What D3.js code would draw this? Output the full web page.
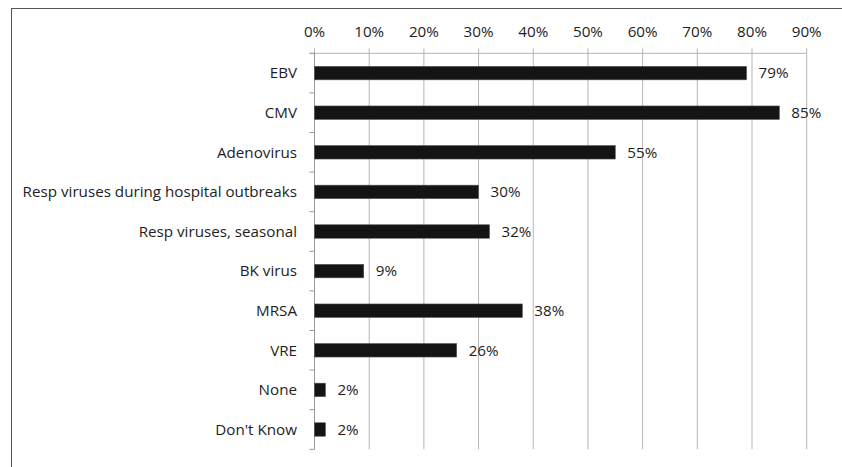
<!DOCTYPE html>
<html>
<head>
<meta charset="utf-8">
<script src="https://cdn.jsdelivr.net/npm/d3@7"></script>
<style>
  html, body { margin: 0; padding: 0; background: #fff; }
  svg { display: block; }
  text { font-family: "Open Sans", "Noto Sans", sans-serif; fill: #1e1e1e; }
</style>
</head>
<body>
<svg id="chart" width="842" height="467"></svg>
<script>
// Pathogens and share of respondents (%)
const categories = ["EBV", "CMV", "Adenovirus", "Resp viruses during hospital outbreaks",
  "Resp viruses, seasonal", "BK virus", "MRSA", "VRE", "None", "Don't Know"];
const values = [79, 85, 55, 30, 32, 9, 38, 26, 2, 2];
const xTicks = [0, 10, 20, 30, 40, 50, 60, 70, 80, 90];

const svg = d3.select("#chart");
const fontSize = 15.2;

// outer frame (runs past the right and bottom edges)
svg.append("rect")
  .attr("x", 11.5).attr("y", 8.5)
  .attr("width", 842).attr("height", 467)
  .attr("fill", "none").attr("stroke", "#555").attr("stroke-width", 1);

const plotLeft = 314.5, plotRight = 806.7, plotTop = 53.3, plotBottom = 449.3;

const x = d3.scaleLinear().domain([0, 90]).range([plotLeft, plotRight]);
const y = d3.scaleBand().domain(categories).range([plotTop, plotBottom]).paddingInner(0.66).paddingOuter(0.33);

// vertical gridlines
svg.append("g").selectAll("line").data(xTicks).join("line")
  .attr("x1", d => x(d)).attr("x2", d => x(d))
  .attr("y1", plotTop - 5).attr("y2", plotBottom)
  .attr("stroke", "#b5b5b5").attr("stroke-width", 1);

// top axis labels
svg.append("g").selectAll("text").data(xTicks).join("text")
  .attr("x", d => x(d)).attr("y", 37)
  .attr("text-anchor", "middle")
  .attr("font-size", fontSize)
  .text(d => d + "%");

// top axis line
svg.append("line")
  .attr("x1", plotLeft - 5).attr("x2", plotRight)
  .attr("y1", plotTop).attr("y2", plotTop)
  .attr("stroke", "#b5b5b5");

// category axis line and boundary ticks
svg.append("line")
  .attr("x1", plotLeft).attr("x2", plotLeft)
  .attr("y1", plotTop).attr("y2", plotBottom)
  .attr("stroke", "#999");
svg.append("g").selectAll("line").data(d3.range(categories.length + 1)).join("line")
  .attr("x1", plotLeft - 5).attr("x2", plotLeft)
  .attr("y1", i => plotTop + i * (plotBottom - plotTop) / categories.length)
  .attr("y2", i => plotTop + i * (plotBottom - plotTop) / categories.length)
  .attr("stroke", "#999");

// bars
svg.append("g").selectAll("rect").data(values).join("rect")
  .attr("x", plotLeft)
  .attr("y", (d, i) => y(categories[i]))
  .attr("width", d => x(d) - plotLeft)
  .attr("height", y.bandwidth())
  .attr("fill", "#141414")
  .attr("stroke", "#555").attr("stroke-width", 0.6);

// category labels
svg.append("g").selectAll("text").data(categories).join("text")
  .attr("x", 297)
  .attr("y", d => y(d) + y.bandwidth() / 2)
  .attr("dy", "0.35em")
  .attr("text-anchor", "end")
  .attr("font-size", fontSize)
  .text(d => d);

// value labels
svg.append("g").selectAll("text").data(values).join("text")
  .attr("x", d => x(d) + 12)
  .attr("y", (d, i) => y(categories[i]) + y.bandwidth() / 2)
  .attr("dy", "0.35em")
  .attr("font-size", fontSize)
  .text(d => d + "%");
</script>
</body>
</html>
